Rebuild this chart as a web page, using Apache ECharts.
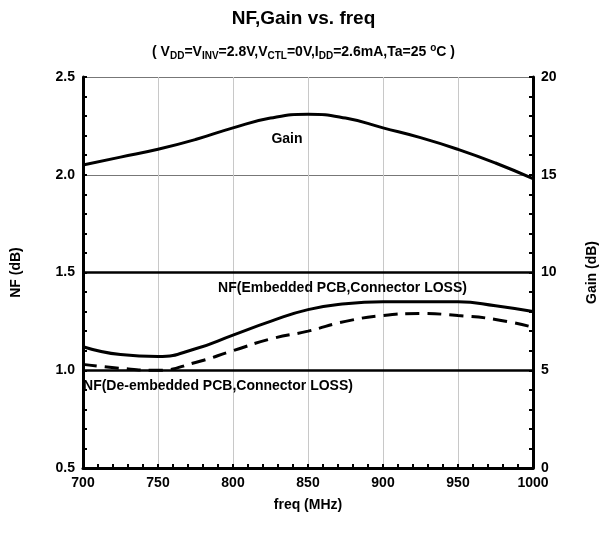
<!DOCTYPE html>
<html><head><meta charset="utf-8">
<script src="https://cdn.jsdelivr.net/npm/echarts@6/dist/echarts.min.js"></script>
<style>body{margin:0;background:#fff}#c{width:607px;height:536px}</style>
</head><body><div id="c"></div>
<script>
const freq = [700, 725, 750, 775, 800, 825, 850, 875, 900, 925, 950, 975, 1000];
const gain = [15.5, 15.9, 16.3, 16.8, 17.4, 17.9, 18.1, 17.9, 17.4, 16.9, 16.3, 15.6, 14.8];
const nfEmb = [1.12, 1.08, 1.07, 1.11, 1.18, 1.25, 1.31, 1.34, 1.35, 1.35, 1.35, 1.33, 1.30];
const nfDe = [1.03, 1.01, 1.0, 1.04, 1.1, 1.16, 1.2, 1.25, 1.28, 1.29, 1.28, 1.26, 1.22];
const pair = (ys) => freq.map((f, i) => [f, ys[i]]);
const font = 'Liberation Sans, Arial, sans-serif';
const chart = echarts.init(document.getElementById('c'));
const sub = { fontSize: 10, fontWeight: 'bold', color: '#000', verticalAlign: 'bottom', padding: [8, 0, 0, 0] };
const lbl = { fontSize: 14, fontWeight: 'bold', color: '#000' };
chart.setOption({
  textStyle: { fontFamily: font },
  title: [{
    text: 'NF,Gain vs. freq', left: 'center', top: 4,
    textStyle: { fontSize: 19, fontWeight: 'bold', color: '#000', fontFamily: font }
  }, {
    text: '( V{s|DD}=V{s|INV}=2.8V,V{s|CTL}=0V,I{s|DD}=2.6mA,Ta=25 {u|o}C )',
    left: 'center', top: 38,
    textStyle: { fontSize: 14, fontWeight: 'bold', color: '#000', fontFamily: font,
      rich: { s: sub, u: { fontSize: 10, fontWeight: 'bold', color: '#000', verticalAlign: 'top', padding: [0, 0, 6, 0] } } }
  }],
  grid: { left: 83, right: 73, top: 77, bottom: 68 },
  xAxis: {
    type: 'value', min: 700, max: 1000, interval: 50,
    name: 'freq (MHz)', nameLocation: 'middle', nameGap: 30,
    nameTextStyle: lbl,
    axisLine: { lineStyle: { color: '#000', width: 3 } },
    axisTick: { inside: true, length: 4, lineStyle: { color: '#000', width: 2 } },
    minorTick: { show: true, splitNumber: 5, length: 4, lineStyle: { color: '#000', width: 2 } },
    axisLabel: { ...lbl, formatter: v => String(v) },
    splitLine: { lineStyle: { color: '#c8c8c8', width: 1 } }
  },
  yAxis: [{
    type: 'value', min: 0.5, max: 2.5, interval: 0.5,
    name: 'NF (dB)', nameLocation: 'middle', nameGap: 60, nameRotate: 90,
    nameTextStyle: lbl,
    axisLine: { show: true, lineStyle: { color: '#000', width: 3 } },
    axisTick: { inside: true, length: 4, lineStyle: { color: '#000', width: 2 } },
    minorTick: { show: true, splitNumber: 5, length: 4, lineStyle: { color: '#000', width: 2 } },
    axisLabel: { ...lbl, formatter: v => v.toFixed(1) },
    splitLine: { lineStyle: { color: '#777', width: 1 } }
  }, {
    type: 'value', min: 0, max: 20, interval: 5, position: 'right',
    name: 'Gain (dB)', nameLocation: 'middle', nameGap: 52, nameRotate: 90,
    nameTextStyle: lbl,
    axisLine: { show: true, lineStyle: { color: '#000', width: 3 } },
    axisTick: { inside: true, length: 4, lineStyle: { color: '#000', width: 2 } },
    minorTick: { show: true, splitNumber: 5, length: 4, lineStyle: { color: '#000', width: 2 } },
    axisLabel: lbl,
    splitLine: { show: false }
  }],
  series: [{
    name: 'Gain', type: 'line', yAxisIndex: 1, data: pair(gain), smooth: 0.5, symbol: 'none',
    lineStyle: { color: '#000', width: 3 },
    markLine: { silent: true, symbol: 'none', label: { show: false },
      lineStyle: { color: '#000', width: 2.5, type: 'solid' }, data: [{ yAxis: 5 }, { yAxis: 10 }] },
    markPoint: { symbol: 'rect', symbolSize: 1, itemStyle: { color: 'transparent' },
      label: { show: true, ...lbl, formatter: 'Gain' },
      data: [{ coord: [836, 16.8] }] }
  }, {
    name: 'NF(Embedded PCB,Connector LOSS)', type: 'line', data: pair(nfEmb), smooth: 0.5, symbol: 'none',
    lineStyle: { color: '#000', width: 3 },
    markPoint: { symbol: 'rect', symbolSize: 1, itemStyle: { color: 'transparent' },
      label: { show: true, ...lbl, formatter: 'NF(Embedded PCB,Connector LOSS)' },
      data: [{ coord: [873, 1.42] }] }
  }, {
    name: 'NF(De-embedded PCB,Connector LOSS)', type: 'line', data: pair(nfDe), smooth: 0.5, symbol: 'none',
    lineStyle: { color: '#000', width: 3, type: [14, 8] },
    markPoint: { symbol: 'rect', symbolSize: 1, itemStyle: { color: 'transparent' },
      label: { show: true, ...lbl, formatter: 'NF(De-embedded PCB,Connector LOSS)' },
      data: [{ coord: [790, 0.92] }] }
  }]
});
</script></body></html>
